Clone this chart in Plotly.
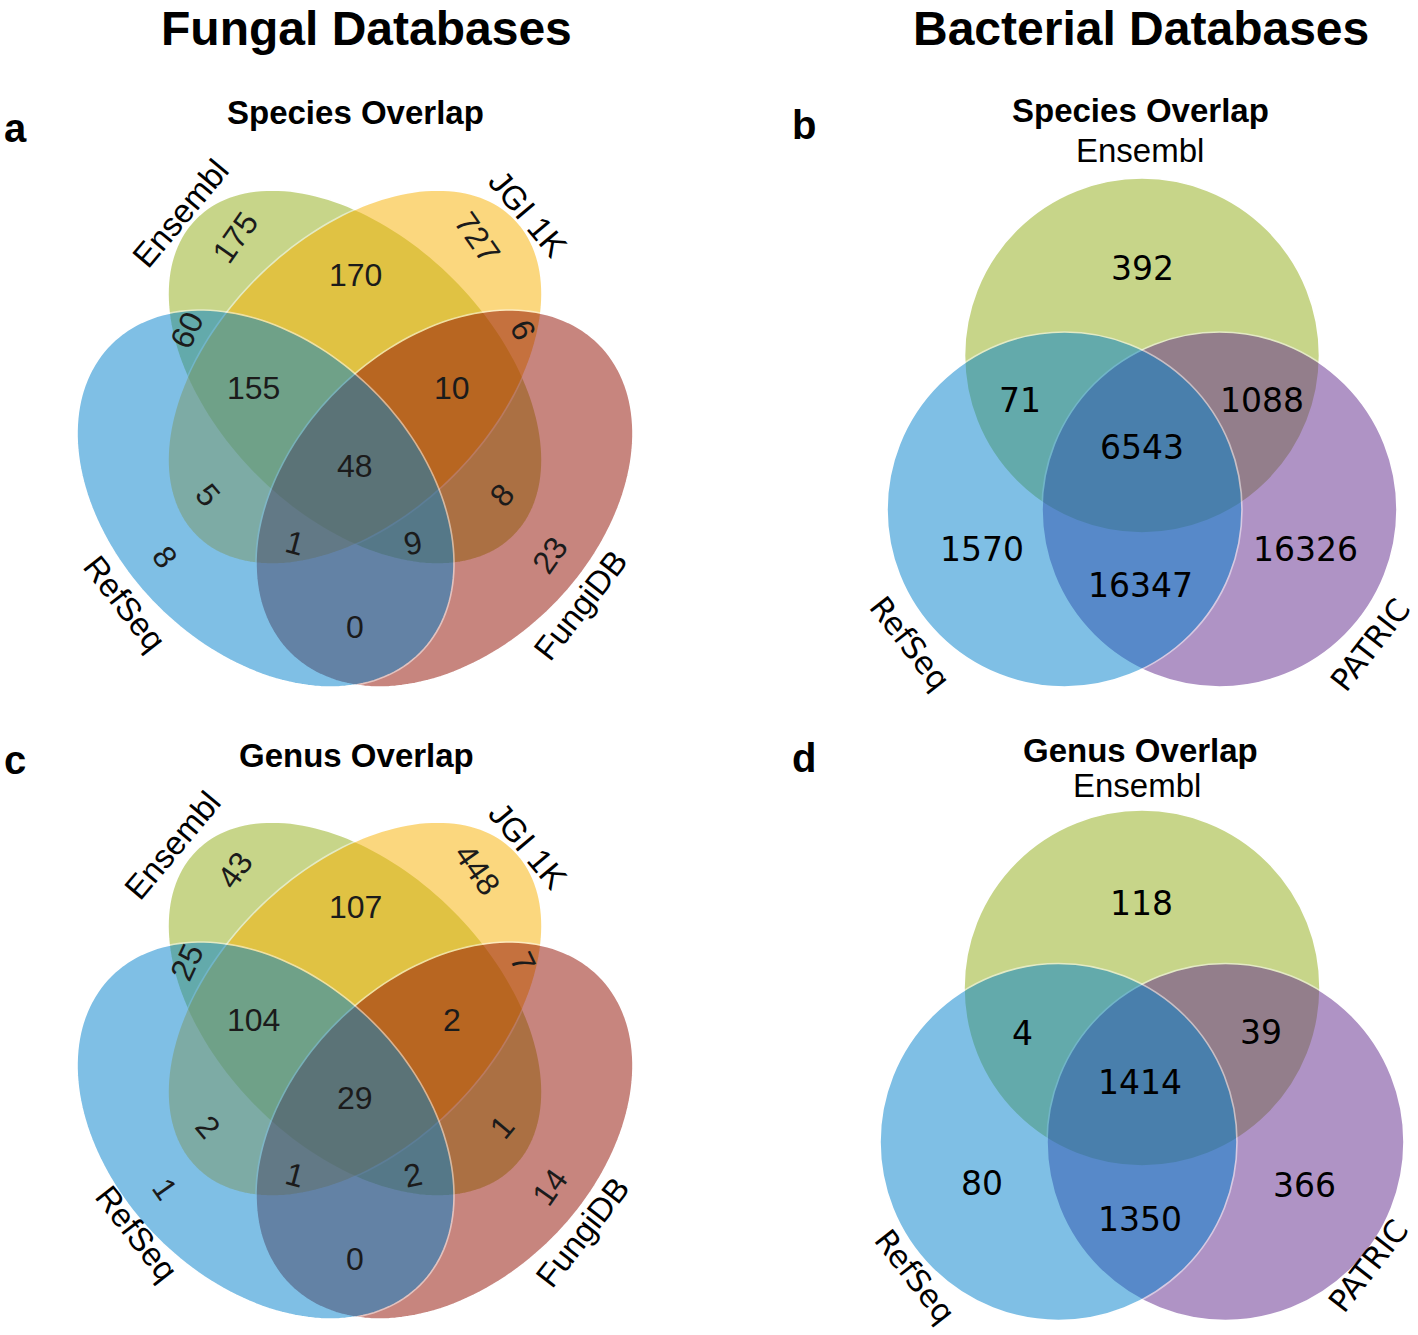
import numpy as np
import plotly.graph_objects as go

# ------------------------------------------------------------------ data
fungal_sets = ["Ensembl", "JGI 1K", "RefSeq", "FungiDB"]
quad_regions = ["E", "J", "R", "F", "EJ", "ER", "JR", "EF", "JF", "RF",
                "EJR", "EJF", "JRF", "ERF", "EJRF"]
fungal_species_counts = [175, 727, 8, 23, 170, 60, 5, 8, 6, 0, 155, 10, 1, 9, 48]
fungal_genus_counts = [43, 448, 1, 14, 107, 25, 2, 1, 7, 0, 104, 2, 1, 2, 29]

bacterial_sets = ["Ensembl", "RefSeq", "PATRIC"]
tri_regions = ["E", "ER", "EP", "ERP", "R", "RP", "P"]
bacterial_species_counts = [392, 71, 1088, 6543, 1570, 16347, 16326]
bacterial_genus_counts = [118, 4, 39, 1414, 80, 1350, 366]

column_titles = ["Fungal Databases", "Bacterial Databases"]
panel_letters = ["a", "b", "c", "d"]
panel_titles = ["Species Overlap", "Species Overlap", "Genus Overlap", "Genus Overlap"]

# ------------------------------------------------------------------ layout / style
W, H = 1418, 1335
SET_COLORS = {
    "Ensembl": "rgb(145,173,21)",
    "JGI 1K": "rgb(249,177,0)",
    "FungiDB": "rgb(145,13,0)",
    "RefSeq": "rgb(1,129,205)",
    "PATRIC": "rgb(97,41,141)",
}
ALPHA = 0.5
TEXT = "#1b1b1b"
ARIAL = "Liberation Sans, Arial, sans-serif"
DEJAVU = "DejaVu Sans, sans-serif"

# 4-set ellipses: offset from diagram origin, semi axes, screen angle
QUAD_GEOM = {
    "Ensembl": (0.0, 0.0, 224.7, 139.5, 45),
    "JGI 1K": (0.0, 0.0, 224.7, 139.5, -45),
    "FungiDB": (89.5, 121.5, 218.6, 152.6, -45),
    "RefSeq": (-89.5, 121.5, 218.6, 152.6, 45),
}
QUAD_DRAW_ORDER = ["Ensembl", "JGI 1K", "FungiDB", "RefSeq"]
QUAD_ORIGINS = {"a": (355, 377), "c": (355, 1009)}

# region label offsets (dx, dy, angle)
QUAD_LABEL_POS = {
    "E": (-120, -139, -55), "J": (122, -140, 55),
    "R": (-190, 180, 55), "F": (195, 178, -55),
    "EJ": (0, -102, 0), "ER": (-168, -47, -65), "JR": (-147, 118, 50),
    "EF": (147, 118, -50), "JF": (168, -47, 65), "RF": (0, 250, 0),
    "EJR": (-102, 11, 0), "EJF": (97, 11, 0), "JRF": (-60, 166, 15),
    "ERF": (58, 166, -12), "EJRF": (0, 89, 0),
}
QUAD_SET_LABEL_POS = {
    "a": {"Ensembl": (-175, -164, -50), "JGI 1K": (173, -164, 50),
          "RefSeq": (-230, 226, 52), "FungiDB": (225, 228, -52)},
    "c": {"Ensembl": (-183, -164, -50), "JGI 1K": (173, -164, 50),
          "RefSeq": (-218, 224, 52), "FungiDB": (227, 223, -52)},
}

# 3-set circles
TRI_GEOM = {
    "b": {"Ensembl": (1142, 355.5, 177.5), "PATRIC": (1219.5, 509.5, 177.5),
          "RefSeq": (1064.5, 509.5, 177.5)},
    "d": {"Ensembl": (1142, 988, 178), "PATRIC": (1225.5, 1142, 178.5),
          "RefSeq": (1058.5, 1142, 178.5)},
}
TRI_DRAW_ORDER = ["Ensembl", "PATRIC", "RefSeq"]
TRI_LABEL_POS = {
    "b": {"E": (1142, 268), "ER": (1020, 400), "EP": (1262, 400), "ERP": (1142, 447),
          "R": (982, 549), "RP": (1140, 585), "P": (1305, 549)},
    "d": {"E": (1141, 903), "ER": (1022, 1033), "EP": (1261, 1032), "ERP": (1140, 1082),
          "R": (982, 1183), "RP": (1140, 1219), "P": (1304, 1185)},
}
TRI_SET_LABEL_POS = {
    "b": {"Ensembl": (1140, 150, 0), "RefSeq": (910, 643, 52), "PATRIC": (1370, 645, -52)},
    "d": {"Ensembl": (1137, 785, 0), "RefSeq": (915, 1276, 52), "PATRIC": (1368, 1266, -52)},
}
PANEL_TITLE_POS = {"a": (355, 112), "b": (1140, 110), "c": (356, 755), "d": (1140, 750)}
PANEL_LETTER_POS = {"a": (15, 128), "b": (804, 125), "c": (15, 760), "d": (804, 758)}
COLUMN_TITLE_POS = [(366, 28), (1141, 28)]


def ellipse_path(cx, cy, a, b, ang_deg, n=180):
    t = np.linspace(0, 2 * np.pi, n, endpoint=False)
    th = np.deg2rad(ang_deg)
    x = cx + a * np.cos(t) * np.cos(th) - b * np.sin(t) * np.sin(th)
    y = cy + a * np.cos(t) * np.sin(th) + b * np.sin(t) * np.cos(th)
    pts = " L ".join(f"{xi:.2f},{yi:.2f}" for xi, yi in zip(x, y))
    return "M " + pts + " Z"


shapes = []
annotations = []


def add_text(x, y, text, size, family, angle=0, color=TEXT):
    annotations.append(dict(
        x=x, y=y, xref="x", yref="y", text=text, showarrow=False,
        textangle=angle, xanchor="center", yanchor="middle",
        font=dict(size=size, family=family, color=color)))


# ---- fungal quad Venns
for panel, counts in (("a", fungal_species_counts), ("c", fungal_genus_counts)):
    ox, oy = QUAD_ORIGINS[panel]
    for s in QUAD_DRAW_ORDER:
        dx, dy, a, b, ang = QUAD_GEOM[s]
        shapes.append(dict(type="path", xref="x", yref="y",
                           path=ellipse_path(ox + dx, oy + dy, a, b, ang),
                           fillcolor=SET_COLORS[s], opacity=ALPHA,
                           line=dict(color="white", width=1.6), layer="above"))
    for reg, val in zip(quad_regions, counts):
        dx, dy, ang = QUAD_LABEL_POS[reg]
        add_text(ox + dx, oy + dy, str(val), 32, ARIAL, ang)
    for s in fungal_sets:
        dx, dy, ang = QUAD_SET_LABEL_POS[panel][s]
        add_text(ox + dx, oy + dy, s, 33, ARIAL, ang, color="black")

# ---- bacterial triple Venns
for panel, counts in (("b", bacterial_species_counts), ("d", bacterial_genus_counts)):
    geom = TRI_GEOM[panel]
    for s in TRI_DRAW_ORDER:
        cx, cy, r = geom[s]
        shapes.append(dict(type="circle", xref="x", yref="y",
                           x0=cx - r, x1=cx + r, y0=cy - r, y1=cy + r,
                           fillcolor=SET_COLORS[s], opacity=ALPHA,
                           line=dict(color="white", width=1.6), layer="above"))
    for reg, val in zip(tri_regions, counts):
        x, y = TRI_LABEL_POS[panel][reg]
        add_text(x, y, str(val), 33, DEJAVU, 0, color="black")
    for s in bacterial_sets:
        x, y, ang = TRI_SET_LABEL_POS[panel][s]
        fam = ARIAL if s == "Ensembl" else DEJAVU
        add_text(x, y, s, 33 if s == "Ensembl" else 31, fam, ang, color="black")

# ---- titles
for (x, y), t in zip(COLUMN_TITLE_POS, column_titles):
    add_text(x, y, f"<b>{t}</b>", 48, ARIAL, color="black")
for p, t in zip(panel_letters, panel_titles):
    x, y = PANEL_TITLE_POS[p]
    add_text(x, y, f"<b>{t}</b>", 33, ARIAL, color="black")
    lx, ly = PANEL_LETTER_POS[p]
    add_text(lx, ly, f"<b>{p}</b>", 40, ARIAL, color="black")

fig = go.Figure(go.Scatter(x=[], y=[], hoverinfo="skip", showlegend=False))
fig.update_layout(
    width=W, height=H, margin=dict(l=0, r=0, t=0, b=0),
    paper_bgcolor="white", plot_bgcolor="white",
    xaxis=dict(range=[0, W], visible=False, fixedrange=True),
    yaxis=dict(range=[H, 0], visible=False, fixedrange=True),
    shapes=shapes, annotations=annotations, showlegend=False,
)
fig.write_html("out.html", config={"displayModeBar": False},
               post_script="document.body.style.margin='0';document.body.style.overflow='hidden';")
